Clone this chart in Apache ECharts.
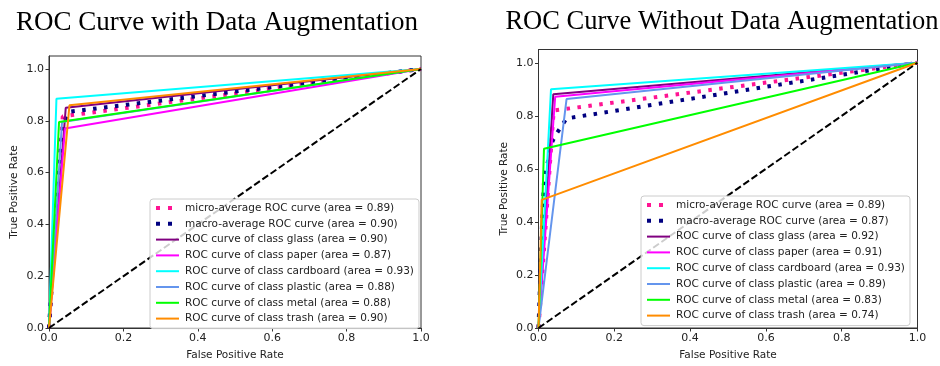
<!DOCTYPE html>
<html>
<head>
<meta charset="utf-8">
<script src="https://cdn.jsdelivr.net/npm/echarts@6/dist/echarts.min.js"></script>
<style>html,body{margin:0;padding:0;background:#fff;}#c{width:940px;height:366px;}</style>
</head>
<body>
<div id="c"></div>
<script>
// ---- data ----
const titles = ['ROC Curve with Data Augmentation', 'ROC Curve Without Data Augmentation'];
const curveLabels = ['micro-average ROC curve', 'macro-average ROC curve',
  'ROC curve of class glass', 'ROC curve of class paper', 'ROC curve of class cardboard',
  'ROC curve of class plastic', 'ROC curve of class metal', 'ROC curve of class trash'];
const augAreas = [0.89, 0.90, 0.90, 0.87, 0.93, 0.88, 0.88, 0.90];
const noAugAreas = [0.89, 0.87, 0.92, 0.91, 0.93, 0.89, 0.83, 0.74];

// with augmentation: [fpr, tpr] points
const augMicro = [[0, 0], [0.037, 0.817], [1, 1]];
const augMacro = [[0, 0], [0.02, 0.45], [0.027, 0.62], [0.035, 0.75], [0.045, 0.81], [0.055, 0.835], [1, 1]];
const augGlass = [[0, 0], [0.045, 0.85], [1, 1]];
const augPaper = [[0, 0], [0.043, 0.77], [1, 1]];
const augCardboard = [[0, 0], [0.02, 0.885], [1, 1]];
const augPlastic = [[0, 0], [0.035, 0.795], [1, 1]];
const augMetal = [[0, 0], [0.027, 0.795], [1, 1]];
const augTrash = [[0, 0], [0.055, 0.86], [1, 1]];

// without augmentation
const noAugMicro = [[0, 0], [0.04, 0.82], [1, 1]];
const noAugMacro = [[0, 0], [0.009, 0.38], [0.0145, 0.55], [0.033, 0.69], [0.039, 0.71], [0.044, 0.725], [0.074, 0.79], [1, 1]];
const noAugGlass = [[0, 0], [0.039, 0.881], [1, 1]];
const noAugPaper = [[0, 0], [0.044, 0.872], [1, 1]];
const noAugCardboard = [[0, 0], [0.033, 0.90], [1, 1]];
const noAugPlastic = [[0, 0], [0.074, 0.863], [1, 1]];
const noAugMetal = [[0, 0], [0.0145, 0.676], [1, 1]];
const noAugTrash = [[0, 0], [0.0085, 0.483], [1, 1]];

const diagonal = [[0, 0], [1, 1]];
const xTicks = [0, 0.2, 0.4, 0.6, 0.8, 1.0];
const yTicks = [0, 0.2, 0.4, 0.6, 0.8, 1.0];

// ---- styles ----
const colors = ['#ff1493', '#000080', '#800080', '#ff00ff', '#00ffff', '#6495ed', '#00ff00', '#ff8c00'];
const font = 'DejaVu Sans';
const grids = [
  { left: 49, top: 56, width: 372, height: 274 },
  { left: 538.5, top: 49.5, width: 379, height: 280.5 }
];
const legendPos = [{ left: 150, top: 199 }, { left: 641, top: 196 }];
const titleCenters = [212, 717];

const chart = echarts.init(document.getElementById('c'), null, { renderer: 'canvas' });

function xAxis(i) {
  return {
    gridIndex: i, type: 'value', min: 0, max: 1,
    name: 'False Positive Rate', nameLocation: 'middle', nameGap: 22,
    nameTextStyle: { fontFamily: font, fontSize: 10.5, color: '#222' },
    axisLine: { show: true, lineStyle: { color: '#333', width: 1 } },
    axisTick: { show: true, inside: false, length: 3.5, customValues: xTicks, lineStyle: { color: '#333' } },
    axisLabel: { customValues: xTicks, fontFamily: font, fontSize: 11, color: '#222', margin: 5,
      formatter: v => v.toFixed(1) },
    splitLine: { show: false }
  };
}
function yAxis(i) {
  return {
    gridIndex: i, type: 'value', min: 0, max: 1.05,
    name: 'True Positive Rate', nameLocation: 'middle', nameGap: 29,
    nameTextStyle: { fontFamily: font, fontSize: 10.5, color: '#222' },
    axisLine: { show: true, lineStyle: { color: '#333', width: 1 } },
    axisTick: { show: true, inside: false, length: 3.5, customValues: yTicks, lineStyle: { color: '#333' } },
    axisLabel: { customValues: yTicks, fontFamily: font, fontSize: 11, color: '#222', margin: 5,
      formatter: v => v.toFixed(1) },
    splitLine: { show: false }
  };
}

const panels = [
  { areas: augAreas, curves: [augMicro, augMacro, augGlass, augPaper, augCardboard, augPlastic, augMetal, augTrash] },
  { areas: noAugAreas, curves: [noAugMicro, noAugMacro, noAugGlass, noAugPaper, noAugCardboard, noAugPlastic, noAugMetal, noAugTrash] }
];

const series = [];
const legends = [];
panels.forEach((p, i) => {
  const items = [];
  p.curves.forEach((pts, k) => {
    const name = curveLabels[k] + ' (area = ' + p.areas[k].toFixed(2) + ')';
    const dotted = k < 2;
    items.push(dotted
      ? { name: name, lineStyle: { width: 4, type: [4, 8], cap: 'butt' } }
      : { name: name, lineStyle: { width: 2 } });
    series.push({
      name: name, type: 'line', xAxisIndex: i, yAxisIndex: i,
      data: pts, symbol: 'none', showSymbol: false, silent: true,
      color: colors[k],
      lineStyle: dotted ? { color: colors[k], width: 4, type: [3.5, 7.5], cap: 'butt' }
                        : { color: colors[k], width: 2 },
      z: 2 + k
    });
  });
  series.push({
    name: 'diag' + i, type: 'line', xAxisIndex: i, yAxisIndex: i, data: diagonal,
    symbol: 'none', silent: true,
    lineStyle: { color: '#000', width: 2, type: [7, 3] }, z: 11
  });
  legends.push({
    orient: 'vertical', left: legendPos[i].left, top: legendPos[i].top,
    data: items,
    itemWidth: 23, itemHeight: 10, itemGap: 3.8,
    itemStyle: { opacity: 0 },
    padding: [3, 5, 4, 4],
    backgroundColor: 'rgba(255,255,255,0.8)', borderColor: '#cccccc', borderWidth: 1, borderRadius: 3,
    textStyle: { fontFamily: font, fontSize: 10.5, color: '#222', lineHeight: 12, padding: [0, 0, 0, 1] },
    selectedMode: false, z: 20
  });
});

chart.setOption({
  animation: false,
  backgroundColor: '#fff',
  title: titles.map((t, i) => ({
    text: t, left: titleCenters[i], top: 4, textAlign: 'center',
    textStyle: { fontFamily: 'Liberation Serif', fontSize: i === 0 ? 27 : 26.5, fontWeight: 'normal', color: '#000' }
  })),
  grid: grids.map(g => Object.assign({ show: true, borderColor: '#333', borderWidth: 1, backgroundColor: '#fff' }, g)),
  xAxis: [xAxis(0), xAxis(1)],
  yAxis: [yAxis(0), yAxis(1)],
  legend: legends,
  series: series
});
</script>
</body>
</html>
